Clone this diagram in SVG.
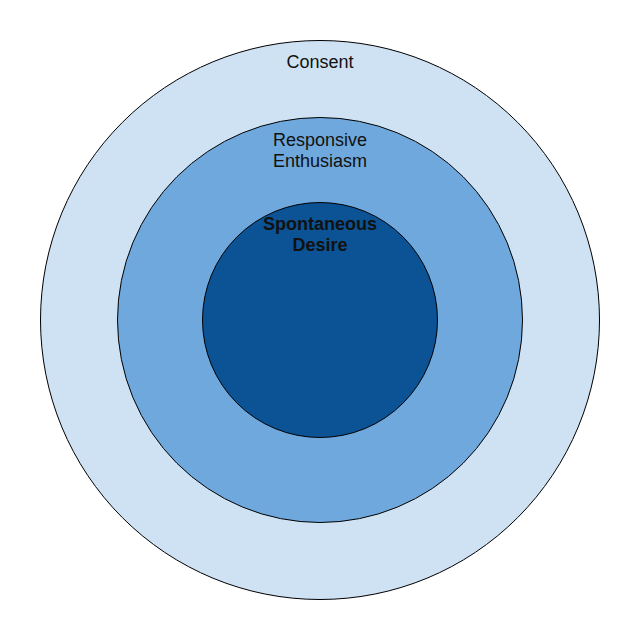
<svg xmlns="http://www.w3.org/2000/svg" width="640" height="640" viewBox="0 0 640 640">
<style>
.c{stroke:#000;stroke-width:1}
.t{font-family:"Liberation Sans",Arial,sans-serif;font-size:18px;fill:#111;text-anchor:middle}
.b{font-weight:bold}
</style>
<rect width="640" height="640" fill="#fff"/>
<g id="consent">
<circle class="c" cx="320" cy="320" r="279.5" fill="#cfe2f3"/>
<text class="t" x="320" y="68">Consent</text>
</g>
<g id="responsive">
<circle class="c" cx="320" cy="320" r="202.5" fill="#6fa8dc"/>
<text class="t" x="320" y="146">Responsive</text>
<text class="t" x="320" y="167">Enthusiasm</text>
</g>
<g id="spontaneous">
<circle class="c" cx="320" cy="320" r="117.5" fill="#0b5394"/>
<text class="t b" x="320" y="230">Spontaneous</text>
<text class="t b" x="320" y="251">Desire</text>
</g>
<g id="connectors"/>
</svg>
